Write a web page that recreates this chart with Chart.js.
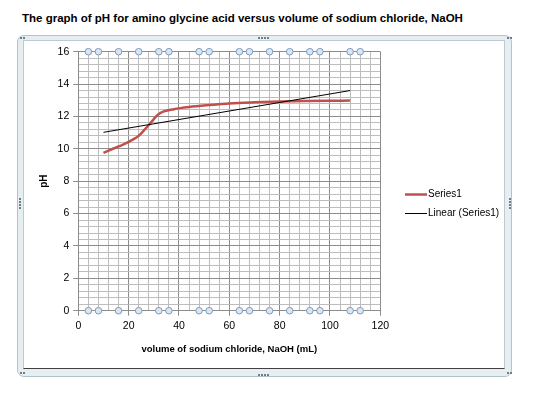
<!DOCTYPE html>
<html>
<head>
<meta charset="utf-8">
<script src="https://cdn.jsdelivr.net/npm/chart.js@4.4.0/dist/chart.umd.min.js"></script>
<style>
  body { margin: 0; background: #fff; width: 534px; height: 399px; overflow: hidden; font-family: "Liberation Sans", Arial, sans-serif; }
  #title { position: absolute; left: 22px; top: 12px; font-weight: bold; font-size: 11.5px; color: #000; white-space: nowrap; }
  #frame { position: absolute; left: 17px; top: 35px; width: 495px; height: 342px; box-sizing: border-box;
           border: 1px solid #b3c3cc; border-radius: 7px; background: #e6eef1; }
  #inner { position: absolute; left: 5px; top: 4px; width: 482px; height: 329px; box-sizing: border-box;
           background: #fff; border: 1px solid #bccbd3; border-bottom: 1px solid #404040; }
  .dots { position: absolute; display: flex; gap: 1px; }
  .dots span { width: 2px; height: 2px; background: #6f7f88; display: block; }
  #chart { position: absolute; left: 0; top: 0; }
</style>
</head>
<body>
<div id="title">The graph of pH for amino glycine acid versus volume of sodium chloride, NaOH</div>
<div id="frame"><div id="inner"></div></div>
<div class="dots" style="left:258px;top:37px"><span></span><span></span><span></span><span></span></div>
<div class="dots" style="left:258px;top:374px"><span></span><span></span><span></span><span></span></div>
<div class="dots" style="left:19px;top:198px;flex-direction:column"><span></span><span></span><span></span><span></span></div>
<div class="dots" style="left:509px;top:198px;flex-direction:column"><span></span><span></span><span></span><span></span></div>
<div class="dots" style="left:20px;top:37px"><span></span><span></span></div>
<div class="dots" style="left:507px;top:37px"><span></span><span></span></div>
<div class="dots" style="left:20px;top:372px"><span></span><span></span></div>
<div class="dots" style="left:507px;top:372px"><span></span><span></span></div>
<canvas id="chart" width="534" height="399"></canvas>
<script>
// volume of NaOH (mL) and measured pH
const volume = [10, 14, 18, 22, 24, 26, 28, 30, 32, 34, 38, 44, 52, 60, 70, 80, 90, 100, 108];
const pH = [9.75, 10.02, 10.28, 10.6, 10.8, 11.12, 11.47, 11.84, 12.15, 12.31, 12.45, 12.58, 12.7, 12.8, 12.87, 12.92, 12.95, 12.97, 12.98];

// linear trendline end points
const trendX = [10, 108];
const trendY = [11.02, 13.6];

// the small circles sitting on the 0 and 16 lines
const markerX = [4, 8, 16, 24, 32, 36, 48, 52, 64, 68, 76, 84, 92, 96, 108, 112];
const markerY = [0, 16];

const legendNames = ["Series1", "Linear (Series1)"];

const FONT = "'Liberation Sans', Arial, sans-serif";
const isMajor = (v, step) => Math.abs(v / step - Math.round(v / step)) < 1e-6;

let markers = [];
for (const y of markerY)
  for (const x of markerX)
    markers.push({ x: x, y: y });

const legendPlugin = {
  id: "sideLegend",
  afterDraw(chart) {
    const ctx = chart.ctx;
    const colors = ["#c0504d", "#000000"];
    const widths = [2.5, 1];
    const ys = [194.5, 213.5];
    ctx.save();
    ctx.font = "10px " + FONT;
    ctx.textBaseline = "middle";
    for (let i = 0; i < legendNames.length; i++) {
      ctx.strokeStyle = colors[i];
      ctx.lineWidth = widths[i];
      ctx.beginPath();
      ctx.moveTo(405, ys[i]);
      ctx.lineTo(427, ys[i]);
      ctx.stroke();
      ctx.fillStyle = "#000";
      ctx.fillText(legendNames[i], 428, ys[i]);
    }
    ctx.restore();
  }
};

let chart = new Chart(document.getElementById("chart"), {
  type: "line",
  data: {
    datasets: [
      {
        label: legendNames[0],
        data: volume.map((v, i) => ({ x: v, y: pH[i] })),
        borderColor: "#c0504d",
        borderWidth: 2.5,
        pointRadius: 0,
        cubicInterpolationMode: "monotone",
        fill: false,
        order: 2
      },
      {
        label: legendNames[1],
        data: trendX.map((v, i) => ({ x: v, y: trendY[i] })),
        borderColor: "#000000",
        borderWidth: 1,
        pointRadius: 0,
        fill: false,
        order: 1
      },
      {
        type: "scatter",
        label: "markers",
        data: markers,
        pointRadius: 3.3,
        borderWidth: 1,
        borderColor: "#7b9bc0",
        backgroundColor: "#dce6f0",
        clip: false,
        order: 0
      }
    ]
  },
  options: {
    responsive: false,
    animation: false,
    layout: { padding: { left: 38, top: 51.7, right: 153.7, bottom: 42 } },
    plugins: {
      legend: { display: false },
      tooltip: { enabled: false }
    },
    scales: {
      x: {
        type: "linear",
        min: 0,
        max: 120,
        afterFit: s => { s.height = 399 - 42 - 310.7; },
        ticks: {
          stepSize: 4,
          autoSkip: false,
          maxRotation: 0,
          padding: 4,
          color: "#000",
          font: { family: FONT, size: 10.5 },
          callback: v => isMajor(v, 20) ? v : ""
        },
        grid: {
          color: c => isMajor(c.tick.value, 20) ? "#8c8c8c" : "#bdbdbd",
          tickColor: c => isMajor(c.tick.value, 20) ? "#8c8c8c" : "rgba(0,0,0,0)",
          tickLength: 5
        },
        border: { color: "#8c8c8c" },
        title: {
          display: true,
          text: "volume of sodium chloride, NaOH (mL)",
          color: "#000",
          font: { family: FONT, size: 9.5, weight: "bold" },
          padding: { top: 0, bottom: 2 }
        }
      },
      y: {
        min: 0,
        max: 16,
        afterFit: s => { s.width = 78.3 - 38; },
        ticks: {
          stepSize: 0.4,
          autoSkip: false,
          padding: 4,
          color: "#000",
          font: { family: FONT, size: 10.5 },
          callback: v => isMajor(v, 2) ? Math.round(v) : ""
        },
        grid: {
          color: c => isMajor(c.tick.value, 2) ? "#8c8c8c" : "#bdbdbd",
          tickColor: c => isMajor(c.tick.value, 2) ? "#8c8c8c" : "rgba(0,0,0,0)",
          tickLength: 5
        },
        border: { color: "#8c8c8c" },
        title: {
          display: true,
          text: "pH",
          color: "#000",
          font: { family: FONT, size: 10, weight: "bold" },
          padding: { top: 0, bottom: 0 }
        }
      }
    }
  },
  plugins: [legendPlugin]
});
</script>
</body>
</html>
